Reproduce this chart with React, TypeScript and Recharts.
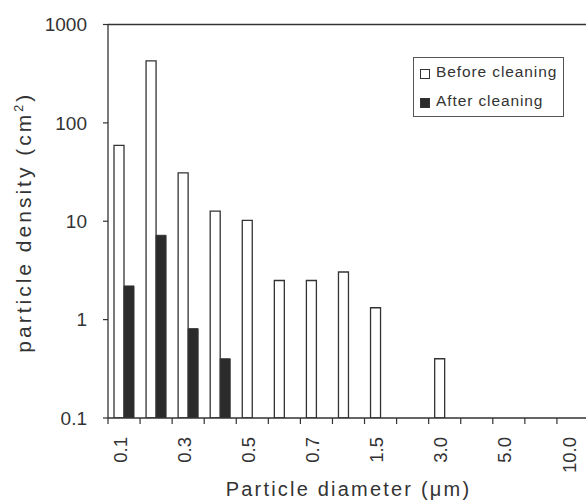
import React from 'react';
import { BarChart, Bar, XAxis, YAxis, Legend, ReferenceLine } from 'recharts';

const categories = ['0.1', '0.2', '0.3', '0.4', '0.5', '0.6', '0.7', '1.0', '1.5', '2.0', '3.0', '4.0', '5.0', '7.0', '10.0'];
const beforeCleaning: (number | null)[] = [59, 427, 31, 12.7, 10.2, 2.5, 2.5, 3.05, 1.32, null, 0.4, null, null, null, null];
const afterCleaning: (number | null)[] = [2.2, 7.2, 0.81, 0.4, null, null, null, null, null, null, null, null, null, null, null];
const shownXLabels = ['0.1', '0.3', '0.5', '0.7', '1.5', '3.0', '5.0', '10.0'];
const yTicks = [0.1, 1, 10, 100, 1000];
const seriesOrder = ['before', 'after'];
const seriesNames = { before: 'Before cleaning', after: 'After cleaning' };

const data = categories.map((c, i) => ({ name: c, before: beforeCleaning[i], after: afterCleaning[i] }));

const INK = '#333';
const FONT = '"Liberation Sans", Arial, Helvetica, sans-serif';

const XTick = (props: any) => {
  const { x, y, payload, index } = props;
  const off = payload && typeof payload.offset === 'number' && payload.offset > 0
    ? payload.offset
    : (props.width ? props.width / categories.length / 2 : 16);
  const label = String(payload.value);
  const show = shownXLabels.includes(label);
  const tx = x - 4;
  const ty = y + 19;
  return (
    <g>
      <line x1={x - off} x2={x - off} y1={y} y2={y + 6} stroke={INK} strokeWidth={1.2} />
      {index === categories.length - 1 && (
        <line x1={x + off} x2={x + off} y1={y} y2={y + 6} stroke={INK} strokeWidth={1.2} />
      )}
      {show && (
        <text
          x={tx}
          y={ty}
          transform={`rotate(-90, ${tx}, ${ty})`}
          textAnchor="end"
          dy="0.36em"
          fill={INK}
          fontSize={18.5}
          fontFamily={FONT}
        >
          {label}
        </text>
      )}
    </g>
  );
};

const YTitle = (props: any) => {
  const vb = props.viewBox || { x: 0, y: 24.5, width: 108, height: 393.5 };
  const cx = vb.x + 31;
  const cy = vb.y + vb.height / 2 + 1;
  return (
    <text
      transform={`translate(${cx}, ${cy}) rotate(-90)`}
      textAnchor="middle"
      fill={INK}
      fontSize={21}
      fontFamily={FONT}
      letterSpacing={3}
    >
      particle density (cm
      <tspan dy={-8} fontSize={12.5}>2</tspan>
      <tspan dy={8}>)</tspan>
    </text>
  );
};

const LegendBox = (props: any) => {
  const payload = [...(props.payload || [])].sort(
    (a: any, b: any) => seriesOrder.indexOf(a.dataKey) - seriesOrder.indexOf(b.dataKey)
  );
  return (
    <div
      style={{
        position: 'relative',
        width: 151,
        height: 60,
        border: '1.2px solid #555',
        boxSizing: 'border-box',
        background: '#fff',
        fontFamily: FONT,
        fontSize: 15.5,
        letterSpacing: 0.9,
        color: INK,
      }}
    >
      {payload.map((entry: any, i: number) => {
        const isBefore = entry.dataKey === 'before';
        return (
          <div
            key={i}
            style={{
              position: 'absolute',
              left: 6,
              top: i === 0 ? 4 : 33,
              height: 20,
              display: 'flex',
              alignItems: 'center',
              whiteSpace: 'nowrap',
            }}
          >
            <span
              style={{
                display: 'inline-block',
                width: 10,
                height: 10,
                boxSizing: 'border-box',
                border: `1.2px solid ${INK}`,
                background: isBefore ? '#fff' : '#2b2b2b',
                marginRight: 6,
                marginTop: 4,
              }}
            />
            <span>{entry.value}</span>
          </div>
        );
      })}
    </div>
  );
};

export default function App() {
  return (
    <div style={{ position: 'absolute', left: 0, top: 0, width: 586, height: 501, overflow: 'hidden', background: '#fff' }}>
      <BarChart
        width={600}
        height={501}
        data={data}
        margin={{ top: 24.5, right: 11, bottom: 0, left: 0 }}
        barGap={0}
        barSize={10}
      >
        <XAxis
          dataKey="name"
          interval={0}
          tickSize={0}
          tickMargin={0}
          tickLine={false}
          tick={<XTick />}
          height={83}
          axisLine={{ stroke: INK, strokeWidth: 1.3 }}
          label={{
            value: 'Particle diameter (\u03bcm)',
            position: 'insideBottom',
            offset: 5,
            fill: INK,
            fontSize: 20,
            fontFamily: FONT,
            letterSpacing: 2.2,
          }}
        />
        <YAxis
          scale="log"
          domain={[0.1, 1000]}
          allowDataOverflow
          ticks={yTicks}
          interval={0}
          width={108}
          tickSize={5}
          tickMargin={16}
          tickLine={{ stroke: INK, strokeWidth: 1.2 }}
          axisLine={{ stroke: INK, strokeWidth: 1.3 }}
          tick={{ fill: INK, fontSize: 19, fontFamily: FONT }}
          label={<YTitle />}
        />
        <ReferenceLine y={1000} stroke={INK} strokeWidth={1.3} />
        <Legend
          layout="vertical"
          align="center"
          verticalAlign="middle"
          content={<LegendBox />}
          wrapperStyle={{ position: 'absolute', left: 413, top: 57, width: 151, height: 60 }}
        />
        <Bar
          dataKey="before"
          name={seriesNames.before}
          fill="#fff"
          stroke={INK}
          strokeWidth={1.3}
          isAnimationActive={false}
        />
        <Bar
          dataKey="after"
          name={seriesNames.after}
          fill="#2b2b2b"
          stroke={INK}
          strokeWidth={1}
          isAnimationActive={false}
        />
      </BarChart>
    </div>
  );
}
